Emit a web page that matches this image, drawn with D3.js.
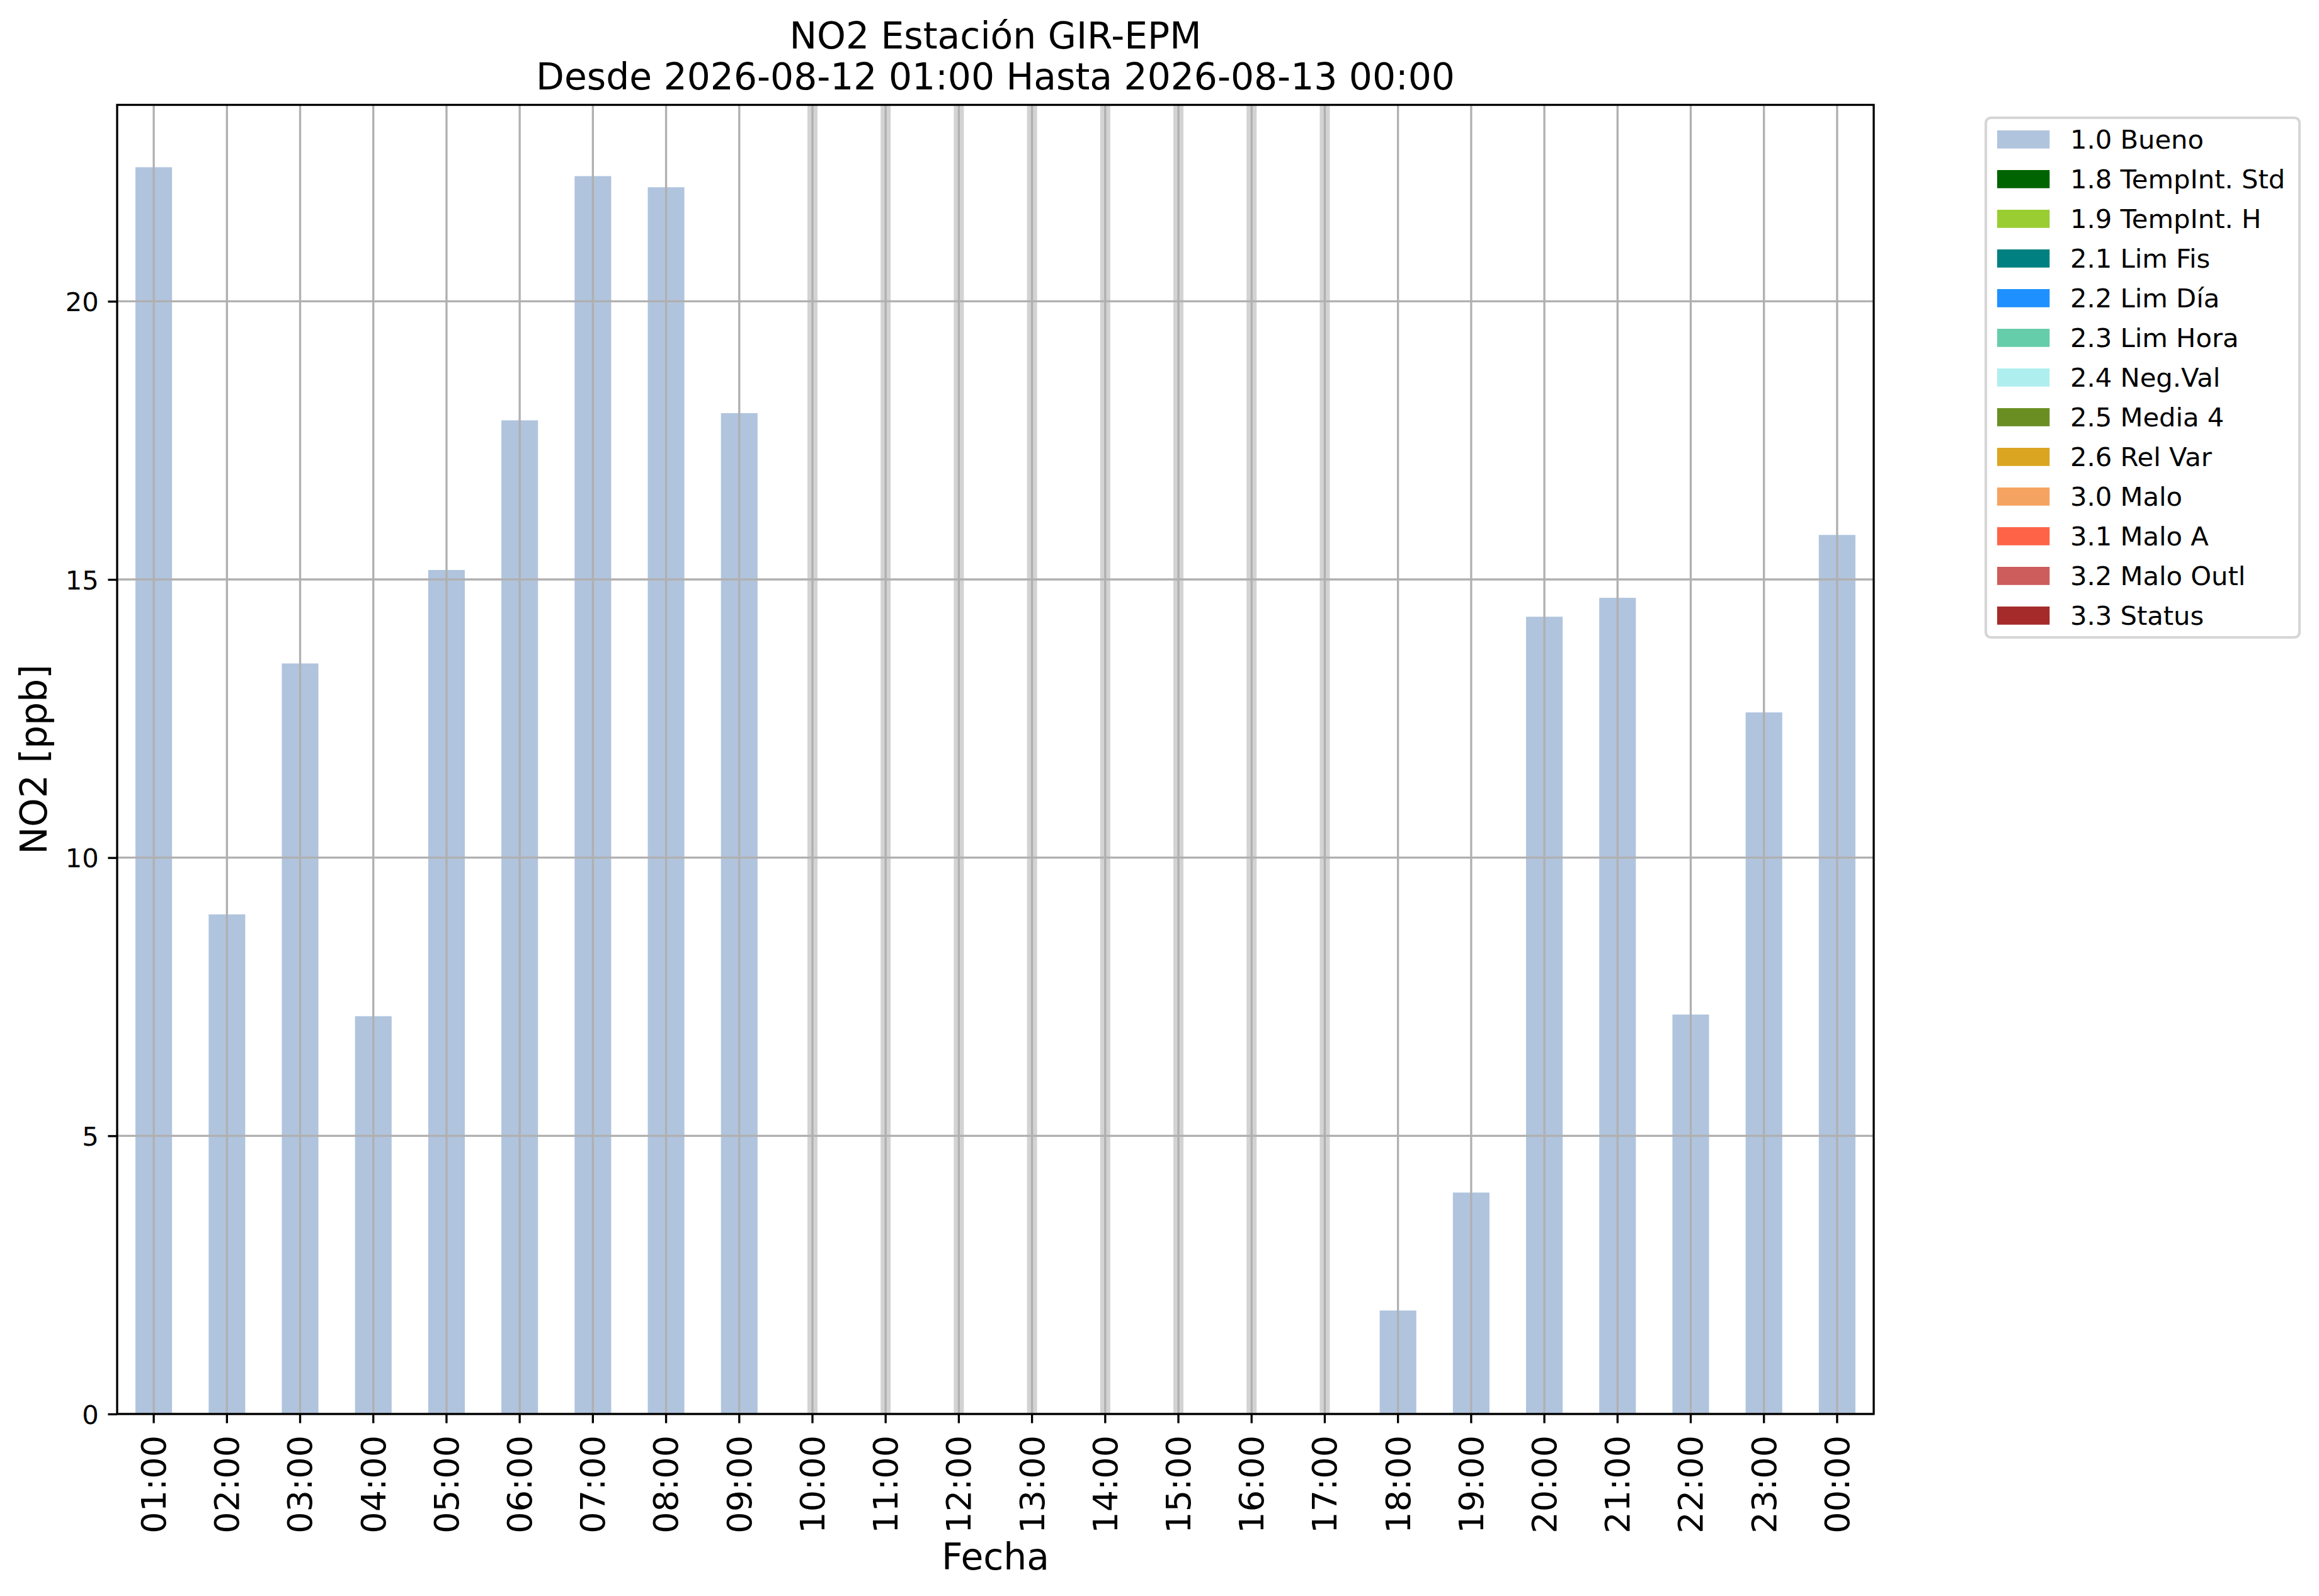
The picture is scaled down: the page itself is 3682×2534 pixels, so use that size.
<!DOCTYPE html>
<html>
<head>
<meta charset="utf-8">
<script src="https://cdn.jsdelivr.net/npm/d3@7"></script>
<style>
  html, body { margin: 0; padding: 0; background: #ffffff; }
  svg { display: block; }
  text { font-family: "DejaVu Sans", sans-serif; fill: #000; }
</style>
</head>
<body>
<script>
// ---------- data ----------
const hours = ["01:00","02:00","03:00","04:00","05:00","06:00","07:00","08:00","09:00","10:00","11:00","12:00",
               "13:00","14:00","15:00","16:00","17:00","18:00","19:00","20:00","21:00","22:00","23:00","00:00"];
const no2Values = [22.41, 8.98, 13.49, 7.15, 15.17, 17.86, 22.25, 22.05, 17.99, null, null, null,
                   null, null, null, null, null, 1.86, 3.98, 14.33, 14.67, 7.18, 12.61, 15.80];
const yTicks = [0, 5, 10, 15, 20];
const legendLabels = ["1.0 Bueno","1.8 TempInt. Std","1.9 TempInt. H","2.1 Lim Fis","2.2 Lim Día","2.3 Lim Hora",
                      "2.4 Neg.Val","2.5 Media 4","2.6 Rel Var","3.0 Malo","3.1 Malo A","3.2 Malo Outl","3.3 Status"];
const legendColors = ["#b0c4de","#006400","#9acd32","#008080","#1e90ff","#66cdaa",
                      "#afeeee","#6b8e23","#daa520","#f4a460","#ff6347","#cd5c5c","#a52a2a"];
const titleLines = ["NO2 Estación GIR-EPM", "Desde 2026-08-12 01:00 Hasta 2026-08-13 00:00"];
const xLabel = "Fecha";
const yLabel = "NO2 [ppb]";

// ---------- layout ----------
const W = 3682, H = 2534;
const plot = { left: 186, right: 2975, top: 166.5, bottom: 2245 };
const lw = 3.33;           // 0.8pt at 300dpi
const tickLen = 14.6;
const fsTick = 41.67, fsXTick = 54, fsLabel = 58.3;

const svg = d3.select("body").append("svg")
  .attr("width", W).attr("height", H)
  .attr("viewBox", `0 0 ${W} ${H}`);

const x = d3.scaleBand().domain(hours)
  .range([plot.left, plot.right])
  .paddingInner(0.5).paddingOuter(0.25);
const yMax = d3.max(no2Values) * 1.05;
const y = d3.scaleLinear().domain([0, yMax]).range([plot.bottom, plot.top]);
const cx = h => x(h) + x.bandwidth() / 2;

// missing-data bands
const missing = hours.filter((h, i) => no2Values[i] === null);
svg.append("g").selectAll("line").data(missing).join("line")
  .attr("x1", cx).attr("x2", cx)
  .attr("y1", plot.top).attr("y2", plot.bottom)
  .attr("stroke", "#d3d3d3").attr("stroke-width", 16);

// bars
const barData = hours.map((h, i) => ({ h, v: no2Values[i] })).filter(d => d.v !== null);
svg.append("g").selectAll("rect").data(barData).join("rect")
  .attr("x", d => x(d.h)).attr("width", x.bandwidth())
  .attr("y", d => y(d.v)).attr("height", d => y(0) - y(d.v))
  .attr("fill", "#b0c4de");

// grid
const grid = svg.append("g").attr("stroke", "#b0b0b0").attr("stroke-width", lw);
grid.selectAll("line.v").data(hours).join("line").attr("class", "v")
  .attr("x1", cx).attr("x2", cx).attr("y1", plot.top).attr("y2", plot.bottom);
grid.selectAll("line.h").data(yTicks).join("line").attr("class", "h")
  .attr("x1", plot.left).attr("x2", plot.right).attr("y1", d => y(d)).attr("y2", d => y(d));

// axes
const xAxis = d3.axisBottom(x).tickSizeOuter(0).tickSizeInner(tickLen).tickPadding(20);
const gx = svg.append("g").attr("transform", `translate(0,${plot.bottom})`).call(xAxis);
gx.select(".domain").remove();
gx.selectAll(".tick line").attr("stroke", "#000").attr("stroke-width", lw);
gx.selectAll(".tick text")
  .attr("font-family", "DejaVu Sans").attr("font-size", fsXTick)
  .attr("transform", "rotate(-90)")
  .attr("text-anchor", "end")
  .attr("x", -34).attr("y", 0).attr("dy", "0.35em");

const yAxis = d3.axisLeft(y).tickValues(yTicks).tickFormat(d3.format("d"))
  .tickSizeOuter(0).tickSizeInner(tickLen).tickPadding(14.6);
const gy = svg.append("g").attr("transform", `translate(${plot.left},0)`).call(yAxis);
gy.select(".domain").remove();
gy.selectAll(".tick line").attr("stroke", "#000").attr("stroke-width", lw);
gy.selectAll(".tick text").attr("font-family", "DejaVu Sans").attr("font-size", fsTick).attr("dy", "0.36em");

// spines
svg.append("rect")
  .attr("x", plot.left).attr("y", plot.top)
  .attr("width", plot.right - plot.left).attr("height", plot.bottom - plot.top)
  .attr("fill", "none").attr("stroke", "#000").attr("stroke-width", lw);

// title
const cxPlot = (plot.left + plot.right) / 2;
svg.append("g").selectAll("text").data(titleLines).join("text")
  .attr("x", cxPlot).attr("y", (d, i) => 76.5 + i * 65)
  .attr("text-anchor", "middle").attr("font-size", fsLabel)
  .text(d => d);

// axis labels
svg.append("text").attr("x", cxPlot).attr("y", 2492)
  .attr("text-anchor", "middle").attr("font-size", fsLabel).text(xLabel);
svg.append("text").attr("transform", `translate(74,${(plot.top + plot.bottom) / 2}) rotate(-90)`)
  .attr("text-anchor", "middle").attr("font-size", fsLabel).text(yLabel);

// legend
const leg = svg.append("g");
const legBox = { x: 3153, y: 187, w: 498, h: 825 };
leg.append("rect")
  .attr("x", legBox.x).attr("y", legBox.y).attr("width", legBox.w).attr("height", legBox.h)
  .attr("rx", 8).attr("ry", 8)
  .attr("fill", "#ffffff").attr("fill-opacity", 0.8)
  .attr("stroke", "#d6d6d6").attr("stroke-width", 4.17);
const rowY = d3.scaleLinear().domain([0, 1]).range([221.4, 221.4 + 63]);
const rows = leg.selectAll("g.row").data(legendLabels).join("g").attr("class", "row")
  .attr("transform", (d, i) => `translate(0,${rowY(i)})`);
rows.append("rect")
  .attr("x", 3171).attr("y", -14.4).attr("width", 83.3).attr("height", 28.8)
  .attr("fill", (d, i) => legendColors[i]);
rows.append("text")
  .attr("x", 3287).attr("y", 14.8)
  .attr("font-size", fsTick).text(d => d);
</script>
</body>
</html>
